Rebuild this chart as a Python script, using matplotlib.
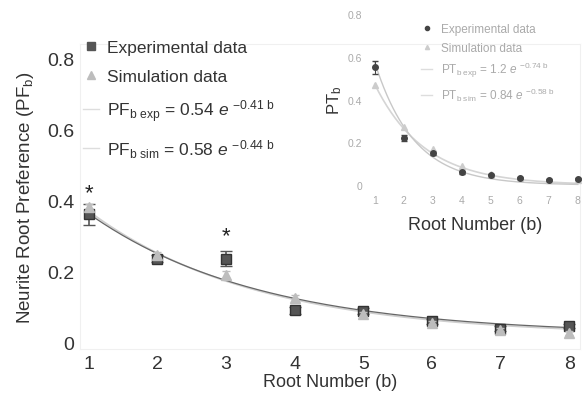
import numpy as np
import matplotlib
matplotlib.use("Agg")
import matplotlib.pyplot as plt
from matplotlib.lines import Line2D

plt.rcParams['font.family'] = ['Liberation Sans', 'DejaVu Sans']
plt.rcParams['mathtext.fontset'] = 'custom'
plt.rcParams['mathtext.rm'] = 'Liberation Sans'
plt.rcParams['mathtext.it'] = 'Liberation Sans:italic'

roots = [1, 2, 3, 4, 5, 6, 7, 8]

# main panel: neurite root preference
pf_exp = [0.36, 0.235, 0.235, 0.09, 0.087, 0.058, 0.038, 0.045]
pf_exp_err = [0.03, 0.01, 0.022, 0.01, 0.008, 0.006, 0.006, 0.006]
pf_sim = [0.38, 0.245, 0.19, 0.125, 0.08, 0.055, 0.035, 0.025]
pf_sim_err = [0.01, 0.008, 0.01, 0.008, 0.006, 0.005, 0.005, 0.005]
star_pos = [(1, 0.42), (3, 0.30)]

# fitted curves as drawn (a, k, offset)
pf_exp_fit = (0.51, 0.40, 0.02)
pf_sim_fit = (0.53, 0.41, 0.017)

# inset: PT_b
pt_exp = [0.55, 0.22, 0.15, 0.06, 0.045, 0.035, 0.025, 0.03]
pt_exp_err = [0.03, 0.015, 0.01, 0.008, 0.005, 0.005, 0.004, 0.004]
pt_sim = [0.47, 0.27, 0.17, 0.09, 0.05, 0.035, 0.025, 0.025]
pt_exp_fit = (1.2, 0.74)
pt_sim_fit = (0.84, 0.58)

dark = '#555555'
light = '#bdbdbd'

fig = plt.figure(figsize=(5.83, 4.02), dpi=100)
ax = fig.add_axes([0.137, 0.129, 0.858, 0.759])

bb = np.linspace(1, 8, 200)
ax.plot(bb, pf_sim_fit[0] * np.exp(-pf_sim_fit[1] * bb) + pf_sim_fit[2], color='#cfcfcf', lw=1.3, zorder=1)
ax.plot(bb, pf_exp_fit[0] * np.exp(-pf_exp_fit[1] * bb) + pf_exp_fit[2], color='#666666', lw=0.9, zorder=2)
ax.errorbar(roots, pf_exp, yerr=pf_exp_err, fmt='s', color=dark, ms=6.5, capsize=4,
            elinewidth=1.2, mec='#333333', zorder=3)
ax.errorbar(roots, pf_sim, yerr=pf_sim_err, fmt='^', color=light, ms=7.5, capsize=3,
            elinewidth=1, mec=light, zorder=4)
for x, y in star_pos:
    ax.text(x, y, '*', ha='center', va='center', fontsize=16, color='#222222')

ax.set_xlim(0.87, 8.16)
ax.set_ylim(-0.02, 0.84)
ax.set_xticks(roots)
ax.set_yticks([0, 0.2, 0.4, 0.6, 0.8])
ax.set_yticklabels(['0', '0.2', '0.4', '0.6', '0.8'])
ax.tick_params(length=0, labelsize=14, colors='#333333', pad=4)
for s in ax.spines.values():
    s.set_color('#f0f0f0')
ax.set_xlabel('Root Number (b)', fontsize=13, color='#333333', labelpad=1)
ax.set_ylabel('Neurite Root Preference (PF$_\\mathrm{b}$)', fontsize=13.5, color='#333333', labelpad=8)

handles = [
    Line2D([], [], marker='s', ls='', color=dark, ms=6),
    Line2D([], [], marker='^', ls='', color=light, ms=6),
    Line2D([], [], color='#dddddd', lw=1),
    Line2D([], [], color='#dddddd', lw=1),
]
labels = [
    'Experimental data',
    'Simulation data',
    'PF$_{\\mathrm{b\\ exp}}$ = 0.54 $e$ $^{\\mathrm{-0.41\\ b}}$',
    'PF$_{\\mathrm{b\\ sim}}$ = 0.58 $e$ $^{\\mathrm{-0.44\\ b}}$',
]
ax.legend(handles, labels, loc='upper left', bbox_to_anchor=(-0.025, 1.065), frameon=False,
          fontsize=12.5, handlelength=0.9, handletextpad=0.5, labelspacing=0.78,
          labelcolor='#333333')

# inset
ins = fig.add_axes([0.631, 0.527, 0.367, 0.448])
ins.plot(bb, pt_sim_fit[0] * np.exp(-pt_sim_fit[1] * bb), color='#d5d5d5', lw=1.2)
ins.plot(bb, pt_exp_fit[0] * np.exp(-pt_exp_fit[1] * bb), color='#c8c8c8', lw=1)
ins.errorbar(roots, pt_sim, fmt='^', color='#cccccc', ms=4)
ins.errorbar(roots, pt_exp, yerr=pt_exp_err, fmt='o', color='#444444', ms=4, capsize=2, elinewidth=0.8)
ins.set_xlim(0.76, 8.14)
ins.set_ylim(-0.019, 0.823)
ins.set_xticks(roots)
ins.set_yticks([0, 0.2, 0.4, 0.6, 0.8])
ins.set_yticklabels(['0', '0.2', '0.4', '0.6', '0.8'])
ins.tick_params(length=0, labelsize=7.5, colors='#aaaaaa', pad=4)
for s in ins.spines.values():
    s.set_visible(False)
ins.patch.set_alpha(0)
ins.set_xlabel('Root Number (b)', fontsize=13, color='#333333', labelpad=8)
ins.set_ylabel('PT$_\\mathrm{b}$', fontsize=12, color='#333333', labelpad=3)

ihandles = [
    Line2D([], [], marker='o', ls='', color='#444444', ms=3),
    Line2D([], [], marker='^', ls='', color='#cccccc', ms=3),
    Line2D([], [], color='#dddddd', lw=1),
    Line2D([], [], color='#dddddd', lw=1),
]
ilabels = [
    'Experimental data',
    'Simulation data',
    'PT$_{\\mathrm{b\\ exp}}$ = 1.2 $e$ $^{\\mathrm{-0.74\\ b}}$',
    'PT$_{\\mathrm{b\\ sim}}$ = 0.84 $e$ $^{\\mathrm{-0.58\\ b}}$',
]
ins.legend(ihandles, ilabels, loc='upper left', bbox_to_anchor=(0.2, 0.98), frameon=False,
           fontsize=8.5, handlelength=0.9, handletextpad=0.8, labelspacing=0.55,
           labelcolor='#aaaaaa')

fig.savefig('out.png', dpi=100)
